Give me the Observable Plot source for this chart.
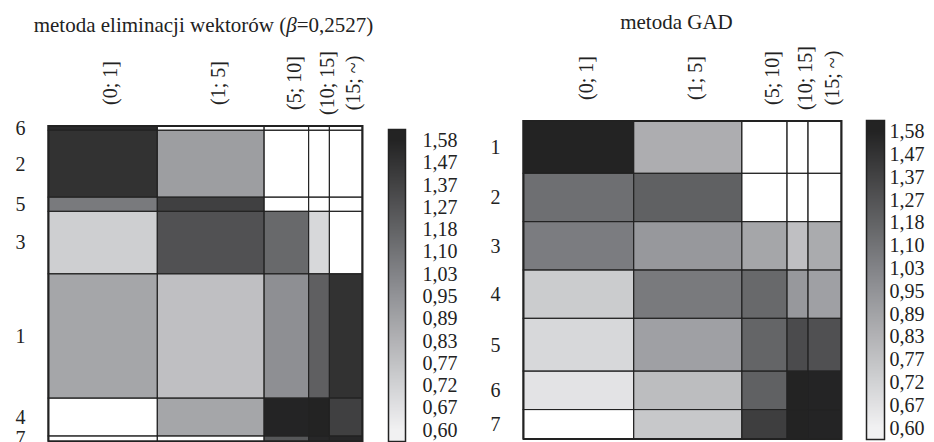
<!DOCTYPE html>
<html><head><meta charset="utf-8">
<script src="https://cdn.jsdelivr.net/npm/d3@7"></script>
<script src="https://cdn.jsdelivr.net/npm/@observablehq/plot@0.6"></script>
<style>
body{margin:0;background:#fff;}
#wrap{position:relative;width:934px;height:442px;overflow:hidden;font-family:"Liberation Serif","Times New Roman",serif;color:#222;}
.part{position:absolute;top:0;}
.title{position:absolute;font-size:21px;line-height:24px;text-align:center;white-space:nowrap;}
</style></head><body><div id="wrap"></div>
<script>
// ---- data ----
const colLabels = ["(0; 1]", "(1; 5]", "(5; 10]", "(10; 15]", "(15; ~)"];
const colShares = [34.8, 34.0, 14.2, 6.6, 10.4];

const leftRows = ["6", "2", "5", "3", "1", "4", "7"];
const leftRowShares = [1.5, 21.2, 4.5, 19.8, 39.4, 12.0, 1.6];
const leftValues = [
  [1.53, null, null, null, null],
  [1.48, 0.91, null, null, null],
  [1.07, 1.39, null, null, null],
  [0.73, 1.28, 1.15, 0.70, null],
  [0.88, 0.78, 0.97, 1.20, 1.48],
  [null, 0.88, 1.57, 1.58, 1.39],
  [null, null, 1.25, 1.55, 1.55]
];

const rightRows = ["1", "2", "3", "4", "5", "6", "7"];
const rightRowShares = [16.6, 15.2, 15.2, 15.2, 16.6, 12.1, 9.1];
const rightValues = [
  [1.58, 0.85, null, null, null],
  [1.12, 1.19, null, null, null],
  [1.06, 0.93, 0.88, 0.78, 0.86],
  [0.74, 1.07, 1.15, 0.93, 0.90],
  [0.70, 0.90, 1.17, 1.32, 1.29],
  [0.66, 0.79, 1.19, 1.58, 1.57],
  [null, 0.75, 1.40, 1.58, 1.57]
];

const colorTicks = [0.60, 0.67, 0.72, 0.77, 0.83, 0.89, 0.95, 1.03, 1.10, 1.18, 1.27, 1.37, 1.47, 1.58];

// ---- styles ----
const INK = "#222";
const grayRamp = d3.quantize(d3.piecewise(d3.interpolateRgb, ["#f1f1f2", "#8a8b8f", "#232323"]), colorTicks.length);
const colorOpts = {type: "linear", domain: colorTicks, range: grayRamp, clamp: true};
const fmt = d => d3.format(".2f")(d).replace(".", ",");
const font = {fontFamily: "'Liberation Serif','Times New Roman',serif", fontSize: "20px", background: "transparent", overflow: "visible"};

const wrap = document.getElementById("wrap");

function place(node, left) {
  node.classList.add("part");
  node.style.left = left + "px";
  wrap.appendChild(node);
}

function mosaic(rowLabels, rowShares, values, m) {
  const cx = d3.cumsum(colShares), cx0 = [0, ...cx.slice(0, -1)];
  const cy = d3.cumsum(rowShares), cy0 = [0, ...cy.slice(0, -1)];
  const cells = rowLabels.flatMap((r, i) => colLabels.map((c, j) => ({
    x1: cx0[j], x2: cx[j], y1: cy0[i], y2: cy[i], value: values[i][j]
  })));
  const cols = colLabels.map((label, j) => ({label, mid: (cx0[j] + cx[j]) / 2}));
  const rows = rowLabels.map((label, i) => ({label, mid: (cy0[i] + cy[i]) / 2}));
  return Plot.plot({
    width: m.width, height: 442,
    marginLeft: m.left, marginRight: m.right, marginTop: m.top, marginBottom: m.bottom,
    x: {domain: [0, d3.sum(colShares)], axis: null},
    y: {domain: [0, d3.sum(rowShares)], reverse: true, axis: null},
    color: colorOpts,
    style: font,
    marks: [
      Plot.rect(cells, {x1: "x1", x2: "x2", y1: "y1", y2: "y2", fill: "white"}),
      Plot.rect(cells.filter(d => d.value != null), {x1: "x1", x2: "x2", y1: "y1", y2: "y2", fill: "value"}),
      Plot.rect(cells, {x1: "x1", x2: "x2", y1: "y1", y2: "y2", fill: "none", stroke: INK, strokeWidth: 1}),
      Plot.frame({stroke: INK, strokeWidth: 2}),
      Plot.text(cols, {x: "mid", text: "label", rotate: -90, frameAnchor: "top", dy: -43, fontSize: 20, fill: INK}),
      Plot.text(rows, {y: "mid", text: "label", frameAnchor: "left", dx: -33, fontSize: 20, fill: INK})
    ]
  });
}

function legend(m) {
  const n = colorTicks.length;
  const idx = d3.scaleLinear().domain(d3.range(n)).range(colorTicks);
  const barPx = 442 - m.top - m.bottom;
  const step = n / barPx;
  const samples = d3.range(-0.5, n - 0.5, step);
  return Plot.plot({
    width: m.width, height: 442,
    marginLeft: m.left, marginRight: m.right, marginTop: m.top, marginBottom: m.bottom,
    x: {domain: [0, 1], axis: null},
    y: {domain: [-0.5, n - 0.5], axis: null},
    color: colorOpts,
    style: font,
    marks: [
      Plot.rect(samples, {x1: 0, x2: 1, y1: d => d, y2: d => Math.min(d + step * 1.6, n - 0.5), fill: d => idx(d + step / 2), shapeRendering: "crispEdges"}),
      Plot.frame({stroke: INK, strokeWidth: 1.5}),
      Plot.text(colorTicks, {y: (d, i) => i, text: fmt, frameAnchor: "right", textAnchor: "start", dx: m.gap, fontSize: 20, fill: INK})
    ]
  });
}

place(mosaic(leftRows, leftRowShares, leftValues, {width: 380, left: 48, right: 18, top: 125.5, bottom: 1}), 0);
place(legend({width: 90, left: 8, right: 65, top: 129, bottom: 1, gap: 17}), 380);
place(mosaic(rightRows, rightRowShares, rightValues, {width: 380, left: 53, right: 9, top: 120.5, bottom: 3.5}), 470);
place(legend({width: 84, left: 16, right: 50, top: 120, bottom: 3, gap: 5}), 850);

const t1 = document.createElement("div");
t1.className = "title";
t1.style.left = "0px"; t1.style.width = "407px"; t1.style.top = "13px";
t1.innerHTML = "metoda eliminacji wektorów (<i>β</i>=0,2527)";
wrap.appendChild(t1);
const t2 = document.createElement("div");
t2.className = "title";
t2.style.left = "576px"; t2.style.width = "201px"; t2.style.top = "10px";
t2.textContent = "metoda GAD";
wrap.appendChild(t2);
</script></body></html>
